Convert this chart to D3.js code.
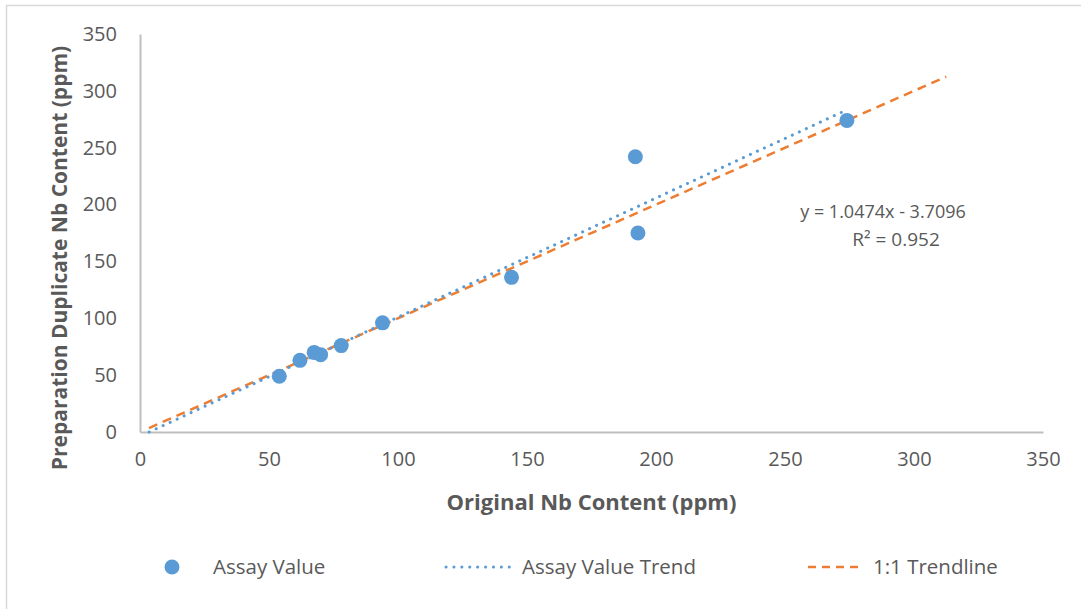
<!DOCTYPE html>
<html>
<head>
<meta charset="utf-8">
<script src="https://cdn.jsdelivr.net/npm/d3@7"></script>
<style>
  body { margin: 0; background: #fff; }
  svg text { font-family: "Open Sans", Lato, sans-serif; fill: #595959; }
</style>
</head>
<body>
<div id="chart"></div>
<script>
// Valeurs
const originalNb = [54, 62, 67.5, 70, 78, 94, 144, 192, 193, 274];
const duplicateNb = [49, 63, 70, 68, 76, 96, 136, 242, 175, 274];
const trendSlope = 1.0474;
const trendIntercept = -3.7096;
const trendRange = [3.54, 274];
const oneToOneRange = [3.5, 312.5];
const xTicks = [0, 50, 100, 150, 200, 250, 300, 350];
const yTicks = [0, 50, 100, 150, 200, 250, 300, 350];
const legendLabels = ["Assay Value", "Assay Value Trend", "1:1 Trendline"];

const blue = "#5B9BD5";
const orange = "#ED7D31";

const W = 1081, H = 609;
const margin = { top: 34, right: 38, bottom: 177, left: 140 };
const width = W - margin.left - margin.right;
const height = H - margin.top - margin.bottom;

const root = d3.select("#chart").append("svg")
    .attr("width", W)
    .attr("height", H);

// Cadre du graphique
root.append("rect")
    .attr("x", 6.5).attr("y", 5.5)
    .attr("width", W).attr("height", H)
    .attr("fill", "none")
    .attr("stroke", "#d9d9d9")
    .attr("stroke-width", 1.5);

const svg = root.append("g")
    .attr("transform", `translate(${margin.left},${margin.top})`);

const x = d3.scaleLinear().domain([0, 350]).range([0, width]);
const y = d3.scaleLinear().domain([0, 350]).range([height, 0]);

// Axes
svg.append("g")
    .attr("transform", `translate(0,${height})`)
    .call(d3.axisBottom(x).tickValues(xTicks).tickSize(0).tickPadding(20))
    .call(g => g.select(".domain").attr("stroke", "#bfbfbf").attr("stroke-width", 2))
    .call(g => g.selectAll("text").style("font-size", "20px").attr("fill", "#595959"));

svg.append("g")
    .call(d3.axisLeft(y).tickValues(yTicks).tickSize(0).tickPadding(23))
    .call(g => g.select(".domain").attr("stroke", "#bfbfbf").attr("stroke-width", 2))
    .call(g => g.selectAll("text").style("font-size", "20px").attr("fill", "#595959"));

// Titres des axes
svg.append("text")
    .attr("x", (445 + 738) / 2 - margin.left)
    .attr("y", height + 78)
    .attr("text-anchor", "middle")
    .style("font-size", "22px")
    .style("font-weight", "bold")
    .text("Original Nb Content (ppm)");

svg.append("text")
    .attr("transform", `translate(${67 - margin.left},${258 - margin.top}) rotate(-90)`)
    .attr("text-anchor", "middle")
    .style("font-size", "21px")
    .style("font-weight", "bold")
    .text("Preparation Duplicate Nb Content (ppm)");

// Ligne 1:1
svg.append("line")
    .attr("x1", x(oneToOneRange[0])).attr("y1", y(oneToOneRange[0]))
    .attr("x2", x(oneToOneRange[1])).attr("y2", y(oneToOneRange[1]))
    .attr("stroke", orange)
    .attr("stroke-width", 2.5)
    .attr("stroke-dasharray", "9,6");

// Courbe de tendance
svg.append("line")
    .attr("x1", x(trendRange[0])).attr("y1", y(trendSlope * trendRange[0] + trendIntercept))
    .attr("x2", x(trendRange[1])).attr("y2", y(trendSlope * trendRange[1] + trendIntercept))
    .attr("stroke", blue)
    .attr("stroke-width", 3)
    .attr("stroke-linecap", "round")
    .attr("stroke-dasharray", "0.1,7.6");

// Points
svg.selectAll(".pt")
    .data(originalNb.map((v, i) => ({ x: v, y: duplicateNb[i] })))
    .enter()
    .append("circle")
    .attr("cx", d => x(d.x))
    .attr("cy", d => y(d.y))
    .attr("r", 7.5)
    .attr("fill", blue);

// Équation
svg.append("text")
    .attr("x", 883 - margin.left)
    .attr("y", 218 - margin.top)
    .attr("text-anchor", "middle")
    .style("font-size", "18px")
    .text(`y = ${trendSlope}x - ${Math.abs(trendIntercept)}`);

svg.append("text")
    .attr("x", 896 - margin.left)
    .attr("y", 246 - margin.top)
    .attr("text-anchor", "middle")
    .style("font-size", "19px")
    .text("R² = 0.952");

// Légende
const legend = root.append("g").attr("transform", "translate(0,567)");

legend.append("circle")
    .attr("cx", 172).attr("cy", 0).attr("r", 7.5)
    .attr("fill", blue);
legend.append("text")
    .attr("x", 213).attr("y", 0).attr("dy", "0.35em")
    .style("font-size", "20.5px")
    .text(legendLabels[0]);

legend.append("line")
    .attr("x1", 446).attr("x2", 517).attr("y1", 0).attr("y2", 0)
    .attr("stroke", blue).attr("stroke-width", 3)
    .attr("stroke-linecap", "round")
    .attr("stroke-dasharray", "0.1,7.8");
legend.append("text")
    .attr("x", 522).attr("y", 0).attr("dy", "0.35em")
    .style("font-size", "20.5px")
    .text(legendLabels[1]);

legend.append("line")
    .attr("x1", 808).attr("x2", 860).attr("y1", 0).attr("y2", 0)
    .attr("stroke", orange).attr("stroke-width", 2.5)
    .attr("stroke-dasharray", "8,6");
legend.append("text")
    .attr("x", 873).attr("y", 0).attr("dy", "0.35em")
    .style("font-size", "20.5px")
    .text(legendLabels[2]);
</script>
</body>
</html>
